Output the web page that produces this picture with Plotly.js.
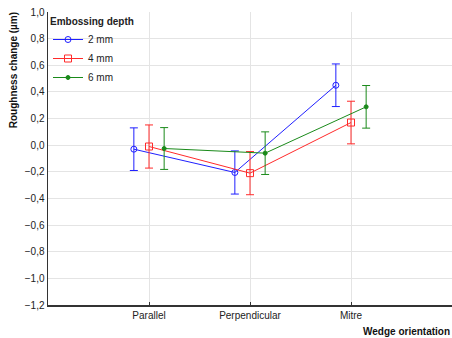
<!DOCTYPE html>
<html><head><meta charset="utf-8">
<script src="https://cdn.plot.ly/plotly-3.0.1.min.js"></script>
<style>html,body{margin:0;padding:0;background:#fff}</style>
</head><body>
<div id="chart" style="width:452px;height:338px"></div>
<script>
const categories = ["Parallel", "Perpendicular", "Mitre"];
const seriesNames = ["2 mm", "4 mm", "6 mm"];
const mean2 = [-0.03, -0.205, 0.45];
const mean4 = [-0.01, -0.21, 0.17];
const mean6 = [-0.025, -0.06, 0.288];
const err2 = [0.16, 0.162, 0.16];
const err4 = [0.162, 0.162, 0.16];
const err6 = [0.157, 0.16, 0.16];
const offsets = [-0.15, 0, 0.15];
const colors = ["#1f1fff", "#ff2a2a", "#1a8a1a"];
const symbols = ["circle-open", "square-open", "circle"];
const sizes = [6, 7, 4];
const means = [mean2, mean4, mean6];
const errs = [err2, err4, err6];

const traces = seriesNames.map((n, i) => ({
  type: "scatter", mode: "lines+markers", name: n,
  x: categories.map((c, j) => j + 1 + offsets[i]),
  y: means[i],
  line: {color: colors[i], width: 1},
  marker: {color: colors[i], symbol: symbols[i], size: sizes[i], line: {color: colors[i], width: 1}},
  error_y: {type: "data", array: errs[i], visible: true, color: colors[i], thickness: 1, width: 4}
}));

const layout = {
  width: 452, height: 338,
  margin: {l: 48, r: 0, t: 12, b: 33},
  paper_bgcolor: "#fff", plot_bgcolor: "#fff",
  separators: ",.",
  font: {family: "Liberation Sans, Arial, sans-serif", size: 10, color: "#222"},
  showlegend: true,
  legend: {x: 0.0, y: 1.0, xanchor: "left", yanchor: "top", bgcolor: "rgba(0,0,0,0)",
    title: {text: "<b>Embossing depth</b>", font: {size: 10}}, font: {size: 10},
    tracegroupgap: 0, itemwidth: 30},
  xaxis: {range: [0, 4], tickvals: [1, 2, 3], ticktext: categories,
    showgrid: true, gridcolor: "#e4e4e4", gridwidth: 1, zeroline: false,
    showline: true, linecolor: "#333", linewidth: 1.5,
    ticks: "inside", ticklen: 3, tickcolor: "#333", tickfont: {size: 10}},
  yaxis: {range: [-1.2, 1.0], dtick: 0.2, tick0: 0, tickformat: ".1f",
    showgrid: true, gridcolor: "#e4e4e4", gridwidth: 1, zeroline: false,
    showline: true, linecolor: "#333", linewidth: 1.5, ticks: "", tickfont: {size: 10}},
  annotations: [
    {text: "<b>Wedge orientation</b>", xref: "paper", yref: "paper", x: 1.0, y: -0.09,
     xanchor: "right", yanchor: "middle", showarrow: false, font: {size: 10, color: "#111"}},
    {text: "<b>Roughness change (µm)</b>", xref: "paper", yref: "paper", x: -0.085, y: 0.80,
     xanchor: "center", yanchor: "middle", textangle: -90, showarrow: false, font: {size: 10, color: "#111"}}
  ]
};
Plotly.newPlot("chart", traces, layout, {displayModeBar: false, staticPlot: true});
</script>
</body></html>
